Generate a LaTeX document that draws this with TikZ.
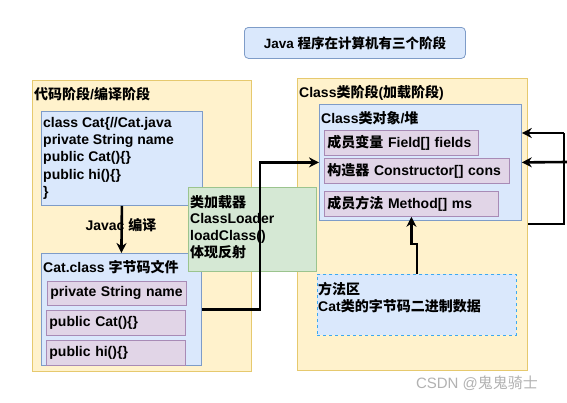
\documentclass[tikz,border=0pt]{standalone}
\usepackage{fontspec}
\setmainfont{Liberation Sans}
\newfontfamily\cjk{Noto Sans CJK SC}
\newcommand{\zh}[1]{{\cjk #1}}
\usetikzlibrary{arrows.meta}
\definecolor{yfill}{HTML}{FFF2CC}
\definecolor{yline}{HTML}{E6C96E}
\definecolor{bfill}{HTML}{DAE8FC}
\definecolor{bline}{HTML}{7E9CC8}
\definecolor{pfill}{HTML}{E1D5E7}
\definecolor{pline}{HTML}{A88BB6}
\definecolor{gfill}{HTML}{D5E8D4}
\definecolor{gline}{HTML}{9BC48E}
\definecolor{selblue}{HTML}{3DA9F0}

\begin{document}
\begin{tikzpicture}[x=1pt,y=-1pt,
  box/.style={rectangle,inner sep=0pt,line width=0.8pt,anchor=north west},
  ybox/.style={box,draw=yline,fill=yfill},
  bbox/.style={box,draw=bline,fill=bfill},
  gbox/.style={box,draw=gline,fill=gfill},
  pbox/.style={box,draw=pline,fill=pfill,inner xsep=3pt,align=left,
    font=\bfseries\fontsize{14}{16.8}\selectfont},
  lbl/.style={anchor=north west,inner sep=0pt,align=left,
    font=\bfseries\fontsize{14}{16.8}\selectfont},
  conn/.style={line width=2.6pt,-{Stealth[length=10pt,width=10pt]}},
  wire/.style={line width=2.6pt}]
\useasboundingbox (0,0) rectangle (567,402);
\fill[white] (0,0) rectangle (567,402);

% title
\node[bbox,draw=bline,rounded corners=4pt,minimum width=221pt,minimum height=31pt] (title) at (244,27) {};
\node[lbl,anchor=center,font=\bfseries\fontsize{13.5}{16}\selectfont] (titletext) at (title.center) {Java \zh{程序在计算机有三个阶段}};

% code stage
\node[ybox,minimum width=219pt,minimum height=291pt] (codestage) at (32,80) {};
\node[lbl] (codetitle) at (34,87) {\zh{代码阶段}/\zh{编译阶段}};
\node[bbox,minimum width=161pt,minimum height=94pt] (srcbox) at (41,111) {};
\node[lbl,font=\bfseries\fontsize{14}{17.3}\selectfont] (srctext) at (43,117) {class Cat\{//Cat.java\\private String name\\public Cat()\{\}\\public hi()\{\}\\\}};
\node[bbox,minimum width=160pt,minimum height=112pt] (catclass) at (41,253) {};
\node[lbl] (cattitle) at (43,260) {Cat.class \zh{字节码文件}};
\node[pbox,text width=133pt,minimum height=24pt] (privname) at (47,281) {private String name};
\node[pbox,text width=133pt,minimum height=25pt] (pubcat) at (46,310) {public Cat()\{\}};
\node[pbox,text width=133pt,minimum height=25pt] (pubhi) at (46,340) {public hi()\{\}};
\node[lbl,anchor=center] (javac) at (121,225) {Javac \zh{编译}};
\draw[conn] (srcbox.south) -- (catclass.north);

% class stage
\node[ybox,minimum width=230pt,minimum height=292pt] (classstage) at (297,78) {};
\node[lbl] (classtitle) at (299,85) {Class\zh{类阶段}(\zh{加载阶段})};
\node[bbox,minimum width=202pt,minimum height=116pt] (classobj) at (319,104) {};
\node[lbl] (objtitle) at (321,111) {Class\zh{类对象}/\zh{堆}};
\node[pbox,text width=148pt,minimum height=25pt] (fields) at (324,130) {\zh{成员变量} Field[] fields};
\node[pbox,text width=179pt,minimum height=25pt] (cons) at (324,158) {\zh{构造器} Constructor[] cons};
\node[pbox,text width=168pt,minimum height=25pt] (meth) at (324,191) {\zh{成员方法} Method[] ms};
\node[bbox,dashed,draw=selblue,minimum width=199pt,minimum height=61pt] (metharea) at (317,274) {};
\node[lbl] (areatext) at (318,282) {\zh{方法区}\\Cat\zh{类的字节码二进制数据}};
\draw[conn] (metharea.north) -- ++(0,-30) -| (meth.south);

% class loader
\node[gbox,minimum width=128pt,minimum height=84pt] (loader) at (188,187) {};
\node[lbl] (loadertext) at (190,195) {\zh{类加载器}\\ClassLoader\\loadClass()\\\zh{体现反射}};
\draw[conn] (catclass.east) -- ++(58,0) |- (classobj.west);

% right side
\coordinate (rbottom) at (classstage.east |- 0,224);
\coordinate (rcorner) at (564,224);
\coordinate (rtop) at (564,133);
\coordinate (redge) at (567,162);
\draw[wire] (rbottom) -- (rcorner) -- (rtop);
\draw[conn] (rtop) -- (classobj.east |- rtop);
\draw[conn] (redge) -- (classobj.east);

\node[text=gray!60,font=\fontsize{15}{18}\selectfont] (mark) at (477,383) {CSDN @\zh{鬼鬼骑士}};
\end{tikzpicture}
\end{document}
